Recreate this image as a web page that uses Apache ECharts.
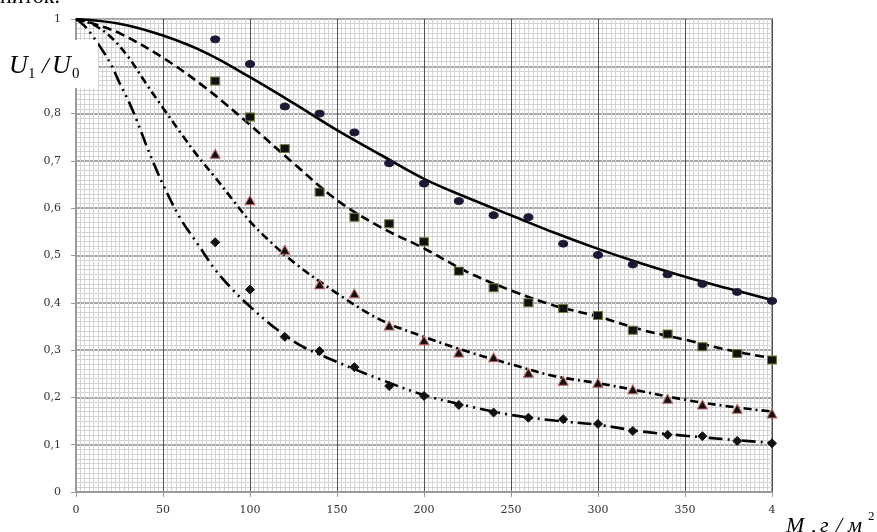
<!DOCTYPE html>
<html>
<head>
<meta charset="utf-8">
<script src="https://cdn.jsdelivr.net/npm/echarts@6/dist/echarts.min.js"></script>
<style>html,body{margin:0;padding:0;background:#fff}#c{width:877px;height:532px}</style>
</head>
<body>
<div id="c"></div>
<script>
// measured points (x in g/m2, y = U1/U0)
var xPoints = [80,100,120,140,160,180,200,220,240,260,280,300,320,340,360,380,400];
var circleVals  = [0.957,0.905,0.815,0.800,0.760,0.695,0.652,0.615,0.585,0.581,0.525,0.501,0.481,0.460,0.440,0.423,0.404];
var squareVals  = [0.869,0.793,0.726,0.634,0.581,0.567,0.529,0.467,0.432,0.400,0.388,0.373,0.342,0.334,0.307,0.293,0.279];
var triangleVals= [0.715,0.617,0.512,0.439,0.420,0.352,0.321,0.295,0.285,0.252,0.235,0.231,0.217,0.197,0.185,0.176,0.166];
var diamondVals = [0.528,0.428,0.328,0.298,0.264,0.224,0.203,0.184,0.168,0.157,0.154,0.144,0.129,0.121,0.118,0.108,0.103];

// fitted curves
var curve1X = [0,25,50,75,100,125,150,175,200,225,250,275,300,325,350,375,400];
var curve1Y = [1,0.99,0.965,0.928,0.877,0.822,0.765,0.713,0.662,0.622,0.585,0.548,0.514,0.483,0.455,0.430,0.406];
var curve2X = [0,10,25,50,75,100,125,150,175,200,225,250,275,300,325,350,375,400];
var curve2Y = [1,0.99,0.97,0.918,0.853,0.776,0.695,0.617,0.56,0.515,0.465,0.426,0.394,0.371,0.343,0.322,0.300,0.283];
var curve3X = [0,10,20,30,40,50,60,70,80,90,100,110,125,150,175,200,225,250,275,300,325,350,375,400];
var curve3Y = [1,0.988,0.962,0.92,0.865,0.812,0.76,0.71,0.665,0.618,0.572,0.535,0.486,0.42,0.364,0.328,0.297,0.27,0.245,0.23,0.213,0.195,0.181,0.17];
var curve4X = [0,5,10,15,20,25,30,35,40,45,50,60,70,80,90,100,115,130,150,175,200,225,250,275,300,325,350,375,400];
var curve4Y = [1,0.985,0.962,0.935,0.905,0.865,0.828,0.785,0.737,0.692,0.65,0.578,0.524,0.47,0.428,0.392,0.345,0.308,0.275,0.238,0.205,0.182,0.163,0.151,0.142,0.128,0.119,0.111,0.104];

function pairs(xs, ys){ return xs.map(function(x,i){ return [x, ys[i]]; }); }

var serif = '"Liberation Serif","DejaVu Serif",serif';
var labelFont = '"DejaVu Serif","Liberation Serif",serif';
var chart = echarts.init(document.getElementById('c'));

function lineSeries(xs, ys, type){
  return {type:'line', data:pairs(xs,ys), smooth:0.35, showSymbol:false, symbol:'none',
          lineStyle:{color:'#000', width:2.6, type:type, cap:'butt'}, z:3, silent:true};
}
function scatterSeries(vals, symbol, size, fill, border){
  return {type:'scatter', data:pairs(xPoints, vals), symbol:symbol, symbolSize:size,
          itemStyle:{color:fill, borderColor:border, borderWidth:1, opacity:1}, z:5, silent:true};
}

chart.setOption({
  animation:false,
  backgroundColor:'#fff',
  grid:{left:76, right:105, top:19, bottom:40, show:true, borderColor:'#9a9a9a', borderWidth:2, backgroundColor:'transparent'},
  xAxis:{type:'value', min:0, max:400, interval:50,
    axisLine:{show:true, lineStyle:{color:'#9a9a9a', width:2}},
    axisTick:{show:true, length:5, lineStyle:{color:'#9a9a9a', width:1}},
    axisLabel:{margin:13, color:'#333', fontFamily:labelFont, fontSize:11,
      formatter:function(v){ return v===400 ? '4' : String(v); }},
    splitLine:{show:true, lineStyle:{color:'#505050', width:1}},
    minorTick:{show:true, splitNumber:20, length:0},
    minorSplitLine:{show:true, lineStyle:{color:'#d4d4d4', width:1}}
  },
  yAxis:{type:'value', min:0, max:1, interval:0.1,
    axisLine:{show:true, lineStyle:{color:'#9a9a9a', width:2}},
    axisTick:{show:true, length:5, lineStyle:{color:'#9a9a9a', width:1}},
    axisLabel:{margin:15, color:'#333', fontFamily:labelFont, fontSize:11,
      formatter:function(v){ if(v===1) return '1'; if(v===0) return '0'; return v.toFixed(1).replace('.',','); }},
    splitLine:{show:true, lineStyle:{color:'#a8a8a8', width:2}},
    minorTick:{show:true, splitNumber:10, length:0},
    minorSplitLine:{show:true, lineStyle:{color:'#d4d4d4', width:1}}
  },
  series:[
    lineSeries(curve1X, curve1Y, 'solid'),
    lineSeries(curve2X, curve2Y, [9,5]),
    lineSeries(curve3X, curve3Y, [8,4,2,4]),
    lineSeries(curve4X, curve4Y, [14,5,2,5,2,5]),
    scatterSeries(circleVals, 'circle', [9,7], '#1a1a36', '#1a1a36'),
    scatterSeries(squareVals, 'rect', [9,8], '#111', '#6f7d3c'),
    scatterSeries(triangleVals, 'triangle', [10,9], '#111', '#c86a6a'),
    scatterSeries(diamondVals, 'diamond', [9,9], '#111', '#111')
  ],
  graphic:[
    {type:'text', left:0, top:-14, z:10, style:{text:'ниток.', font:'22px '+serif, fill:'#000'}},
    {type:'rect', shape:{x:0, y:40, width:98, height:48}, style:{fill:'#fff'}, z:20},
    {type:'text', z:21, style:{text:'U', x:9, y:79, font:'italic 26px '+serif, fill:'#000', textVerticalAlign:'bottom', verticalAlign:'bottom'}},
    {type:'text', z:21, style:{text:'1', x:28, y:82, font:'15px '+serif, fill:'#000', textVerticalAlign:'bottom', verticalAlign:'bottom'}},
    {type:'text', z:21, style:{text:'/', x:42, y:79, font:'italic 24px '+serif, fill:'#000', textVerticalAlign:'bottom', verticalAlign:'bottom'}},
    {type:'text', z:21, style:{text:'U', x:52, y:79, font:'italic 26px '+serif, fill:'#000', textVerticalAlign:'bottom', verticalAlign:'bottom'}},
    {type:'text', z:21, style:{text:'0', x:72, y:82, font:'15px '+serif, fill:'#000', textVerticalAlign:'bottom', verticalAlign:'bottom'}},
    {type:'text', z:21, style:{text:'M', x:786, y:537, font:'italic 22px '+serif, fill:'#000', textVerticalAlign:'bottom', verticalAlign:'bottom'}},
    {type:'text', z:21, style:{text:',', x:811, y:537, font:'italic 22px '+serif, fill:'#000', textVerticalAlign:'bottom', verticalAlign:'bottom'}},
    {type:'text', z:21, style:{text:'г', x:820, y:537, font:'italic 22px '+serif, fill:'#000', textVerticalAlign:'bottom', verticalAlign:'bottom'}},
    {type:'text', z:21, style:{text:'/', x:836, y:537, font:'italic 22px '+serif, fill:'#000', textVerticalAlign:'bottom', verticalAlign:'bottom'}},
    {type:'text', z:21, style:{text:'м', x:848, y:537, font:'italic 22px '+serif, fill:'#000', textVerticalAlign:'bottom', verticalAlign:'bottom'}},
    {type:'text', z:21, style:{text:'2', x:868, y:523, font:'13px '+serif, fill:'#000', textVerticalAlign:'bottom', verticalAlign:'bottom'}}
  ]
});
</script>
</body>
</html>
